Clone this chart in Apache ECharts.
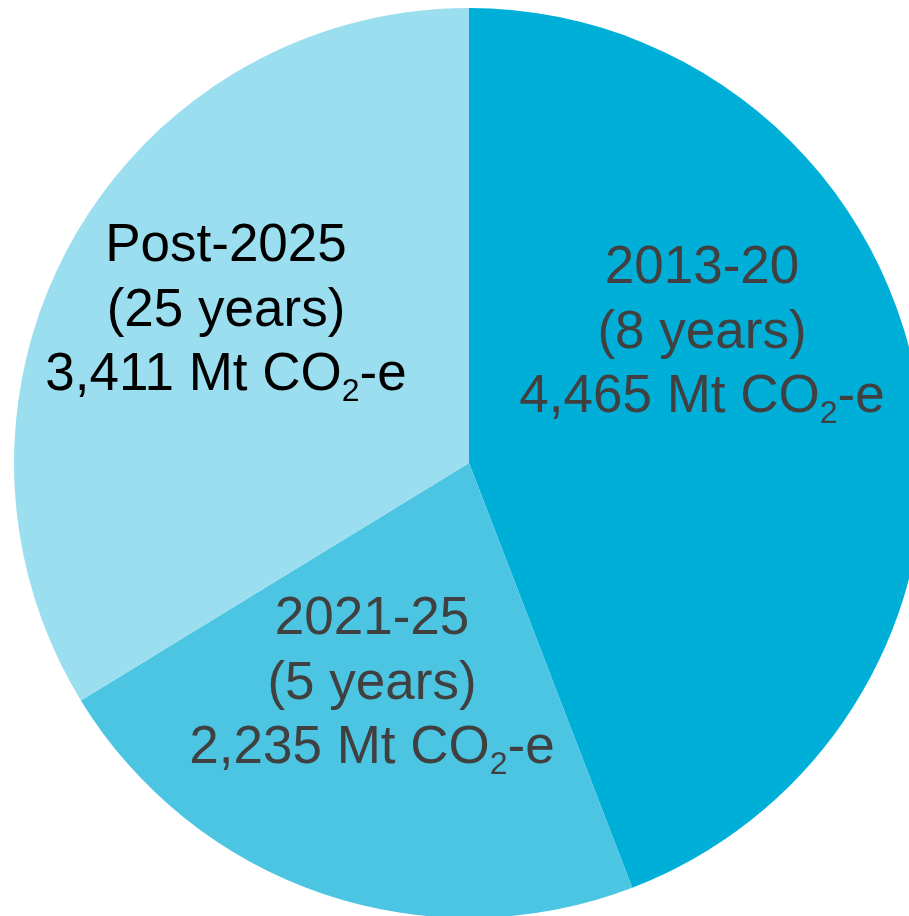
<!DOCTYPE html>
<html>
<head>
<meta charset="utf-8">
<style>
  html, body { margin: 0; padding: 0; background: #ffffff; }
  #chart { width: 909px; height: 916px; }
</style>
<script src="https://cdn.jsdelivr.net/npm/echarts@6/dist/echarts.min.js"></script>
</head>
<body>
<div id="chart"></div>
<script>
// ---- data ----
const periods = ['2013-20', '2021-25', 'Post-2025'];
const durations = ['(8 years)', '(5 years)', '(25 years)'];
const emissions = [4465, 2235, 3411]; // Mt CO2-e
const unitText = 'Mt CO';
const unitSub = '2';
const unitTail = '-e';

// ---- styles ----
const sliceColors = ['#00AFD8', '#4CC5E3', '#9ADEEF'];
const labelColors = ['#404040', '#404040', '#000000'];
const labelCenters = [[702, 333], [372, 684], [226, 311]];

const chart = echarts.init(document.getElementById('chart'), null, { renderer: 'canvas' });

function fmt(v) {
  return v.toString().replace(/\B(?=(\d{3})+(?!\d))/g, ',');
}

const FS = 53, LH = 64.5, SUBFS = 32;
function richFor(color) {
  return {
    a: { fontSize: FS, lineHeight: LH, color: color, fontFamily: 'Liberation Sans, Arial, sans-serif' },
    s: { fontSize: SUBFS, lineHeight: 26, color: color, verticalAlign: 'bottom', fontFamily: 'Liberation Sans, Arial, sans-serif' }
  };
}

const data = periods.map((p, i) => ({
  name: p,
  value: emissions[i],
  itemStyle: { color: sliceColors[i] },
  label: { rich: richFor(labelColors[i]) }
}));

chart.setOption({
  animation: false,
  series: [{
    type: 'pie',
    center: [469, 463],
    radius: [0, 455],
    startAngle: 90,
    clockwise: true,
    avoidLabelOverlap: false,
    itemStyle: { borderWidth: 0 },
    emphasis: { disabled: true },
    label: {
      show: true,
      position: 'inside',
      align: 'center',
      verticalAlign: 'middle',
      formatter: function (p) {
        const i = p.dataIndex;
        return '{a|' + periods[i] + '}\n{a|' + durations[i] + '}\n{a|' + fmt(emissions[i]) + ' ' + unitText + '}{s|' + unitSub + '}{a|' + unitTail + '}';
      }
    },
    labelLine: { show: false },
    labelLayout: function (params) {
      const c = labelCenters[params.dataIndex];
      return { x: c[0], y: c[1], align: 'center', verticalAlign: 'middle' };
    },
    data: data
  }]
});
</script>
</body>
</html>
